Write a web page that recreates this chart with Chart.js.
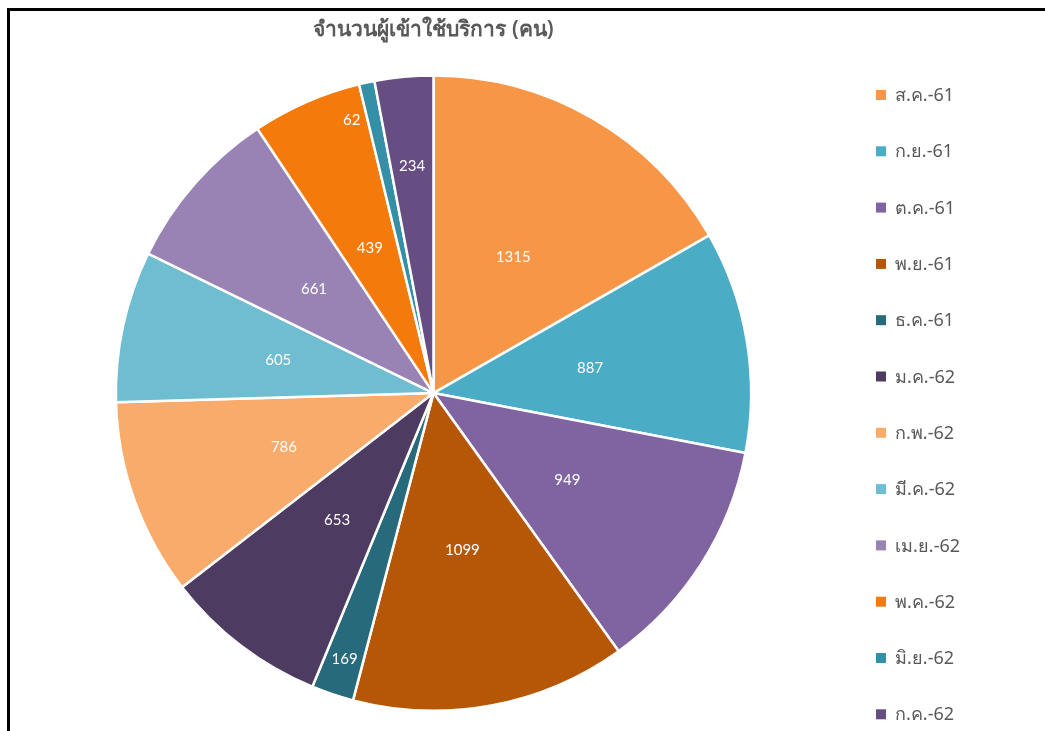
<!DOCTYPE html>
<html>
<head>
<meta charset="utf-8">
<script src="https://cdn.jsdelivr.net/npm/chart.js@4.4.1/dist/chart.umd.min.js"></script>
<style>
  html, body { margin: 0; padding: 0; background: #fff; }
  #wrap { position: relative; width: 1045px; height: 731px; }
  #frame {
    position: absolute; left: 7px; top: 8px; right: 0; bottom: 0;
    border-top: 3px solid #000; border-left: 3px solid #000;
    pointer-events: none;
  }
  canvas { position: absolute; left: 0; top: 0; }
</style>
</head>
<body>
<div id="wrap">
  <canvas id="pieChart" width="1045" height="731"></canvas>
  <div id="frame"></div>
</div>
<script>
// data
const months = ['ส.ค.-61', 'ก.ย.-61', 'ต.ค.-61', 'พ.ย.-61', 'ธ.ค.-61', 'ม.ค.-62',
                'ก.พ.-62', 'มี.ค.-62', 'เม.ย.-62', 'พ.ค.-62', 'มิ.ย.-62', 'ก.ค.-62'];
const visitors = [1315, 887, 949, 1099, 169, 653, 786, 605, 661, 439, 62, 234];
const sliceColors = ['#F79646', '#4BACC6', '#8064A2', '#B65708', '#276A7C', '#4D3B62',
                     '#F9AB6B', '#6FBDD1', '#9983B5', '#F47A0C', '#358FA7', '#664E82'];
const chartTitle = 'จำนวนผู้เข้าใช้บริการ (คน)';

const textFont = "'Noto Sans', 'DejaVu Sans', sans-serif";

// white value labels inside the slices, pushed outwards for thin slices
const sliceLabels = {
    id: 'sliceLabels',
    afterDatasetsDraw(chart) {
        const ctx = chart.ctx;
        const meta = chart.getDatasetMeta(0);
        const values = chart.data.datasets[0].data;
        const total = values.reduce((a, b) => a + b, 0);
        ctx.save();
        ctx.fillStyle = '#ffffff';
        ctx.font = "15px Lato, 'Noto Sans', sans-serif";
        ctx.textAlign = 'center';
        ctx.textBaseline = 'middle';
        meta.data.forEach((arc, i) => {
            const p = arc.getProps(['x', 'y', 'startAngle', 'endAngle', 'outerRadius'], true);
            const frac = values[i] / total;
            let f = 0.5;
            let mid = (p.startAngle + p.endAngle) / 2;
            if (frac < 0.01) { f = 0.9; mid -= 4.5 * Math.PI / 180; }
            else if (frac < 0.025) f = 0.88;
            else if (frac < 0.035) f = 0.72;
            const r = p.outerRadius * f;
            ctx.fillText(String(values[i]), p.x + Math.cos(mid) * r, p.y + Math.sin(mid) * r + 1);
        });
        ctx.restore();
    }
};

// legend column on the right
const sideLegend = {
    id: 'sideLegend',
    afterDraw(chart) {
        const ctx = chart.ctx;
        const labels = chart.data.labels;
        const colors = chart.data.datasets[0].backgroundColor;
        ctx.save();
        ctx.font = '18px ' + textFont;
        ctx.textBaseline = 'middle';
        ctx.textAlign = 'left';
        labels.forEach((lab, i) => {
            const y = 95 + i * 56.3;
            ctx.fillStyle = colors[i];
            ctx.fillRect(876, y - 5, 10, 10);
            ctx.fillStyle = '#595959';
            ctx.fillText(lab, 895, y + 1);
        });
        ctx.restore();
    }
};

const ctx = document.getElementById('pieChart').getContext('2d');
new Chart(ctx, {
    type: 'pie',
    data: {
        labels: months,
        datasets: [{
            data: visitors,
            backgroundColor: sliceColors,
            borderColor: '#ffffff',
            borderWidth: 2.5
        }]
    },
    options: {
        responsive: false,
        animation: false,
        layout: {
            padding: { top: 8, left: 114, right: 292, bottom: 19 }
        },
        plugins: {
            legend: { display: false },
            tooltip: { enabled: false },
            title: {
                display: true,
                text: chartTitle,
                color: '#595959',
                font: { family: textFont, size: 21, weight: '600', lineHeight: 1.2 },
                padding: { top: 9, bottom: 32 }
            }
        }
    },
    plugins: [sliceLabels, sideLegend]
});
</script>
</body>
</html>
